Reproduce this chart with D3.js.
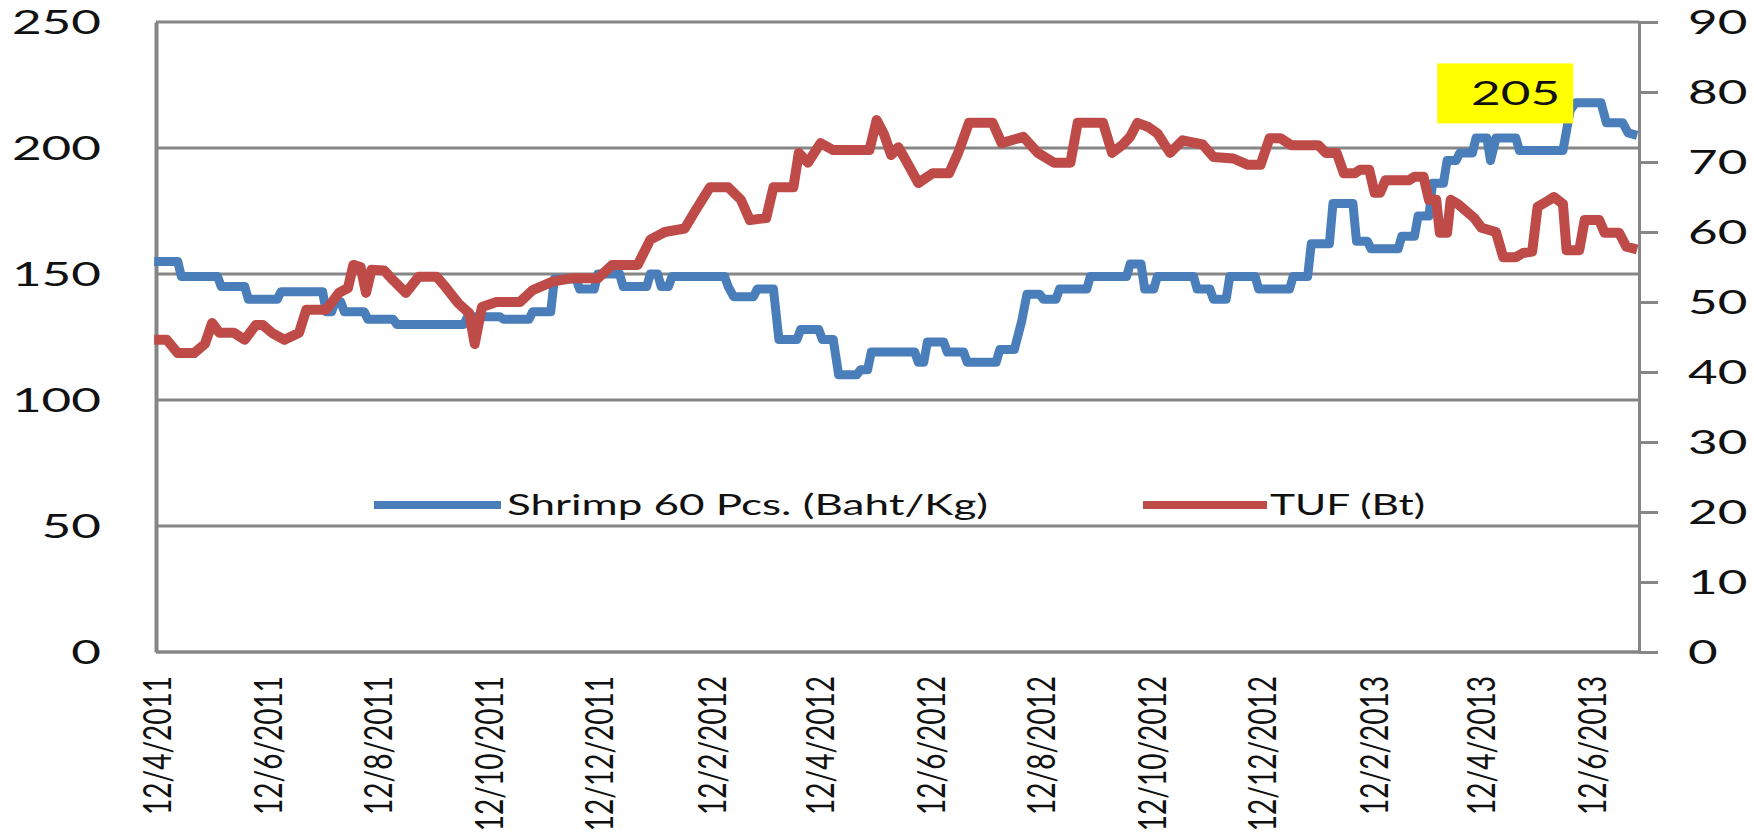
<!DOCTYPE html>
<html>
<head>
<meta charset="utf-8">
<script src="https://cdn.jsdelivr.net/npm/d3@7"></script>
<style>
  html, body { margin: 0; padding: 0; background: #fff; }
  svg { display: block; font-family: Lato, "Noto Sans", sans-serif; }
</style>
</head>
<body>
<div id="chart"></div>
<script>
// Data
const tickLabels = ['12/4/2011', '12/6/2011', '12/8/2011', '12/10/2011', '12/12/2011',
    '12/2/2012', '12/4/2012', '12/6/2012', '12/8/2012', '12/10/2012', '12/12/2012',
    '12/2/2013', '12/4/2013', '12/6/2013'];
const leftTicks = [0, 50, 100, 150, 200, 250];
const rightTicks = [0, 10, 20, 30, 40, 50, 60, 70, 80, 90];
const seriesNames = ['Shrimp 60 Pcs. (Baht/Kg)', 'TUF (Bt)'];
const lastLabel = '205';

// Shrimp 60 pcs (left axis)
const shrimp = [
    ['2011-04-10', 155], ['2011-04-23', 155], ['2011-04-25', 149], ['2011-05-15', 149],
    ['2011-05-17', 145], ['2011-05-30', 145], ['2011-06-01', 140], ['2011-06-17', 140],
    ['2011-06-19', 143], ['2011-07-12', 143], ['2011-07-14', 135], ['2011-07-17', 135],
    ['2011-07-19', 139], ['2011-07-22', 139], ['2011-07-24', 135], ['2011-08-04', 135],
    ['2011-08-06', 132], ['2011-08-20', 132], ['2011-08-22', 130], ['2011-09-28', 130],
    ['2011-09-30', 133], ['2011-10-18', 133], ['2011-10-20', 132], ['2011-11-03', 132],
    ['2011-11-05', 135], ['2011-11-15', 135], ['2011-11-17', 148], ['2011-11-29', 148],
    ['2011-12-01', 144], ['2011-12-09', 144], ['2011-12-11', 150], ['2011-12-23', 150],
    ['2011-12-25', 145], ['2012-01-07', 145], ['2012-01-09', 150], ['2012-01-13', 150],
    ['2012-01-15', 145], ['2012-01-19', 145], ['2012-01-21', 149], ['2012-02-19', 149],
    ['2012-02-21', 145], ['2012-02-24', 141], ['2012-03-06', 141], ['2012-03-08', 144],
    ['2012-03-17', 144], ['2012-03-20', 124], ['2012-03-30', 124], ['2012-04-01', 128],
    ['2012-04-11', 128], ['2012-04-13', 124], ['2012-04-19', 124], ['2012-04-22', 110],
    ['2012-05-02', 110], ['2012-05-04', 112], ['2012-05-08', 112], ['2012-05-10', 119],
    ['2012-06-03', 119], ['2012-06-05', 115], ['2012-06-08', 115], ['2012-06-10', 123],
    ['2012-06-19', 123], ['2012-06-21', 119], ['2012-06-30', 119], ['2012-07-02', 115],
    ['2012-07-18', 115], ['2012-07-20', 120], ['2012-07-28', 120], ['2012-08-01', 131],
    ['2012-08-04', 142], ['2012-08-11', 142], ['2012-08-13', 140], ['2012-08-20', 140],
    ['2012-08-22', 144], ['2012-09-06', 144], ['2012-09-08', 149], ['2012-09-28', 149],
    ['2012-09-30', 154], ['2012-10-06', 154], ['2012-10-08', 144], ['2012-10-13', 144],
    ['2012-10-15', 149], ['2012-11-04', 149], ['2012-11-06', 144], ['2012-11-13', 144],
    ['2012-11-15', 140], ['2012-11-22', 140], ['2012-11-24', 149], ['2012-12-08', 149],
    ['2012-12-10', 144], ['2012-12-27', 144], ['2012-12-29', 149], ['2013-01-06', 149],
    ['2013-01-08', 162], ['2013-01-18', 162], ['2013-01-20', 178], ['2013-01-31', 178],
    ['2013-02-02', 163], ['2013-02-08', 163], ['2013-02-10', 160], ['2013-02-25', 160],
    ['2013-02-27', 165], ['2013-03-06', 165], ['2013-03-08', 173], ['2013-03-14', 173],
    ['2013-03-16', 186], ['2013-03-22', 186], ['2013-03-24', 195], ['2013-03-29', 195],
    ['2013-03-31', 198], ['2013-04-07', 198], ['2013-04-09', 204], ['2013-04-15', 204],
    ['2013-04-17', 195], ['2013-04-20', 204], ['2013-05-01', 204], ['2013-05-03', 199],
    ['2013-05-27', 199], ['2013-05-31', 215], ['2013-06-03', 218], ['2013-06-17', 218],
    ['2013-06-20', 210], ['2013-06-29', 210], ['2013-07-02', 206], ['2013-07-07', 205]
];

// TUF share price (right axis)
const tuf = [
    ['2011-04-10', 44.6], ['2011-04-17', 44.6], ['2011-04-23', 42.7], ['2011-05-02', 42.7],
    ['2011-05-08', 44], ['2011-05-12', 47], ['2011-05-16', 45.6], ['2011-05-24', 45.6],
    ['2011-05-30', 44.6], ['2011-06-05', 46.7], ['2011-06-09', 46.7], ['2011-06-14', 45.6],
    ['2011-06-21', 44.6], ['2011-06-29', 45.6], ['2011-07-03', 48.9], ['2011-07-14', 48.9],
    ['2011-07-21', 51.3], ['2011-07-26', 52], ['2011-07-29', 55.3], ['2011-08-02', 55],
    ['2011-08-05', 51.3], ['2011-08-08', 54.6], ['2011-08-15', 54.5], ['2011-08-20', 53.1],
    ['2011-08-27', 51.3], ['2011-09-03', 53.6], ['2011-09-13', 53.6], ['2011-09-18', 52.1],
    ['2011-09-25', 49.8], ['2011-10-01', 48.4], ['2011-10-04', 44], ['2011-10-08', 49.3],
    ['2011-10-16', 50], ['2011-10-29', 50], ['2011-11-05', 51.7], ['2011-11-16', 52.9],
    ['2011-11-27', 53.4], ['2011-12-11', 53.4], ['2011-12-19', 55.3], ['2012-01-02', 55.3],
    ['2012-01-09', 58.9], ['2012-01-17', 60], ['2012-01-28', 60.5], ['2012-02-03', 63.1],
    ['2012-02-11', 66.4], ['2012-02-21', 66.4], ['2012-02-28', 64.6], ['2012-03-04', 61.7],
    ['2012-03-13', 62], ['2012-03-17', 66.4], ['2012-03-28', 66.4], ['2012-03-31', 71.3],
    ['2012-04-05', 69.9], ['2012-04-12', 72.7], ['2012-04-19', 71.7], ['2012-05-09', 71.7],
    ['2012-05-13', 76], ['2012-05-17', 74], ['2012-05-21', 71], ['2012-05-25', 72.1],
    ['2012-05-29', 70.3], ['2012-06-05', 67], ['2012-06-13', 68.4], ['2012-06-22', 68.4],
    ['2012-06-27', 71.3], ['2012-07-03', 75.6], ['2012-07-16', 75.6], ['2012-07-21', 72.7],
    ['2012-08-02', 73.6], ['2012-08-10', 71.3], ['2012-08-19', 69.9], ['2012-08-28', 69.9],
    ['2012-09-01', 75.6], ['2012-09-15', 75.6], ['2012-09-20', 71.3], ['2012-09-26', 72.5],
    ['2012-09-30', 73.6], ['2012-10-04', 75.6], ['2012-10-10', 75], ['2012-10-15', 74.1],
    ['2012-10-22', 71.3], ['2012-10-29', 73.1], ['2012-11-09', 72.5], ['2012-11-15', 70.7],
    ['2012-11-26', 70.5], ['2012-12-04', 69.6], ['2012-12-11', 69.6], ['2012-12-16', 73.4],
    ['2012-12-22', 73.4], ['2012-12-28', 72.4], ['2013-01-12', 72.4], ['2013-01-16', 71.3],
    ['2013-01-22', 71.3], ['2013-01-26', 68.4], ['2013-02-01', 68.4], ['2013-02-04', 68.9],
    ['2013-02-09', 68.9], ['2013-02-12', 65.6], ['2013-02-15', 65.6], ['2013-02-18', 67.4],
    ['2013-03-03', 67.4], ['2013-03-06', 67.9], ['2013-03-11', 67.9], ['2013-03-14', 64.6],
    ['2013-03-18', 64.6], ['2013-03-20', 59.9], ['2013-03-24', 59.9], ['2013-03-26', 64.6],
    ['2013-03-30', 64], ['2013-04-03', 63.1], ['2013-04-08', 62], ['2013-04-12', 60.6],
    ['2013-04-20', 60], ['2013-04-24', 56.4], ['2013-05-01', 56.4], ['2013-05-05', 57],
    ['2013-05-10', 57.2], ['2013-05-13', 63.6], ['2013-05-19', 64.5], ['2013-05-22', 65],
    ['2013-05-27', 64], ['2013-05-29', 57.4], ['2013-06-05', 57.4], ['2013-06-08', 61.7],
    ['2013-06-16', 61.7], ['2013-06-19', 59.9], ['2013-06-27', 59.9], ['2013-07-01', 57.9],
    ['2013-07-07', 57.5]
];

// Layout
const W = 1754, H = 832;
const plot = {left: 156, right: 1639, top: 22, bottom: 652};
const gridColor = '#868686';
const blue = '#4a7ebb';
const red = '#be4b48';

const parseISO = d3.timeParse('%Y-%m-%d');
const parseTick = d3.timeParse('%d/%m/%Y');

const svg = d3.select('#chart')
    .append('svg')
    .attr('width', W)
    .attr('height', H);

// Scales
const x = d3.scaleTime()
    .domain([parseISO('2011-04-11'), parseISO('2013-07-08')])
    .range([plot.left, plot.right]);
const yLeft = d3.scaleLinear().domain([0, 250]).range([plot.bottom, plot.top]);
const yRight = d3.scaleLinear().domain([0, 90]).range([plot.bottom, plot.top]);

// Gridlines
svg.append('g')
    .selectAll('line')
    .data(leftTicks)
    .enter()
    .append('line')
    .attr('x1', plot.left)
    .attr('x2', plot.right)
    .attr('y1', d => yLeft(d))
    .attr('y2', d => yLeft(d))
    .attr('stroke', gridColor)
    .attr('stroke-width', 3);

// Left axis (no tick marks)
const leftAxis = svg.append('g')
    .attr('transform', `translate(${plot.left},0)`)
    .call(d3.axisLeft(yLeft).tickValues(leftTicks).tickSize(0).tickPadding(0));
leftAxis.select('.domain').attr('stroke', gridColor).attr('stroke-width', 4);
leftAxis.selectAll('text').remove();

svg.append('g')
    .selectAll('text')
    .data(leftTicks)
    .enter()
    .append('text')
    .attr('transform', d => `translate(101,${yLeft(d)}) scale(1.6,1)`)
    .attr('dy', '0.36em')
    .attr('text-anchor', 'end')
    .attr('font-size', 32)
    .attr('fill', '#111')
    .text(d => d);

// Right axis with outward ticks
const rightAxis = svg.append('g')
    .attr('transform', `translate(${plot.right},0)`)
    .call(d3.axisRight(yRight).tickValues(rightTicks).tickSize(19).tickSizeOuter(0));
rightAxis.select('.domain').attr('stroke', gridColor).attr('stroke-width', 3);
rightAxis.selectAll('.tick line').attr('stroke', gridColor).attr('stroke-width', 3);
rightAxis.selectAll('text').remove();

svg.append('g')
    .selectAll('text')
    .data(rightTicks)
    .enter()
    .append('text')
    .attr('transform', d => `translate(1688,${yRight(d)}) scale(1.6,1)`)
    .attr('dy', '0.36em')
    .attr('text-anchor', 'start')
    .attr('font-size', 32)
    .attr('fill', '#111')
    .text(d => d);

// Bottom axis line
svg.append('line')
    .attr('x1', plot.left)
    .attr('x2', plot.right)
    .attr('y1', plot.bottom)
    .attr('y2', plot.bottom)
    .attr('stroke', gridColor)
    .attr('stroke-width', 3);

// Date labels, rotated
svg.append('g')
    .selectAll('text')
    .data(tickLabels)
    .enter()
    .append('text')
    .attr('transform', d => `translate(${x(parseTick(d))},676) scale(1.35,1) rotate(-90)`)
    .attr('dy', '0.36em')
    .attr('text-anchor', 'end')
    .attr('font-size', 28)
    .attr('fill', '#111')
    .text(d => d);

// Lines
const shrimpLine = d3.line()
    .x(d => x(parseISO(d[0])))
    .y(d => yLeft(d[1]));
const tufLine = d3.line()
    .x(d => x(parseISO(d[0])))
    .y(d => yRight(d[1]));

svg.append('path')
    .datum(shrimp)
    .attr('d', shrimpLine)
    .attr('fill', 'none')
    .attr('stroke', blue)
    .attr('stroke-width', 9)
    .attr('stroke-linejoin', 'round');

svg.append('path')
    .datum(tuf)
    .attr('d', tufLine)
    .attr('fill', 'none')
    .attr('stroke', red)
    .attr('stroke-width', 10)
    .attr('stroke-linejoin', 'round');

// Legend
const legend = [
    {name: seriesNames[0], color: blue, x1: 374, x2: 501, tx: 507, len: 481},
    {name: seriesNames[1], color: red, x1: 1143, x2: 1267, tx: 1270, len: 155}
];
const lg = svg.append('g');
legend.forEach(l => {
    lg.append('line')
        .attr('x1', l.x1).attr('x2', l.x2)
        .attr('y1', 505).attr('y2', 505)
        .attr('stroke', l.color)
        .attr('stroke-width', 8);
    lg.append('text')
        .attr('x', l.tx)
        .attr('y', 515)
        .attr('font-size', 28)
        .attr('fill', '#111')
        .attr('textLength', l.len)
        .attr('lengthAdjust', 'spacingAndGlyphs')
        .text(l.name);
});

// "205" call-out near the latest shrimp price
const last = shrimp[shrimp.length - 1];
const lx = x(parseISO(last[0]));
const ly = yLeft(last[1]);
svg.append('rect')
    .attr('x', lx - 200)
    .attr('y', ly - 72)
    .attr('width', 136)
    .attr('height', 60)
    .attr('fill', '#ffff00');
svg.append('text')
    .attr('transform', `translate(${lx - 77},${ly - 42}) scale(1.6,1)`)
    .attr('dy', '0.36em')
    .attr('text-anchor', 'end')
    .attr('font-size', 32)
    .attr('fill', '#111')
    .text(lastLabel);
</script>
</body>
</html>
